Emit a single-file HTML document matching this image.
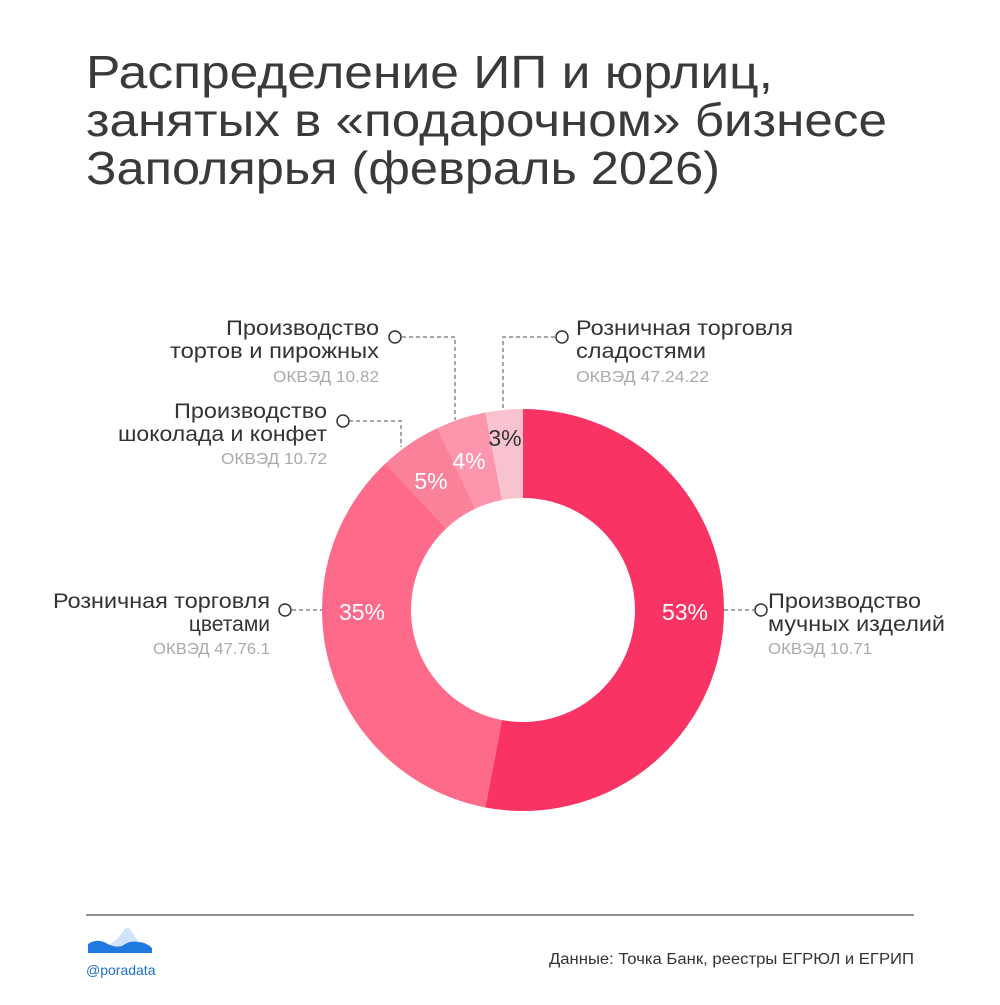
<!DOCTYPE html>
<html><head><meta charset="utf-8"><style>
body{margin:0;width:1000px;height:1000px;background:#fff;font-family:"Liberation Sans",sans-serif;overflow:hidden}
</style></head><body>
<svg width="1000" height="1000" xmlns="http://www.w3.org/2000/svg" font-family="Liberation Sans, sans-serif">
<g font-size="46" fill="#3a3a3a" font-weight="500" lengthAdjust="spacingAndGlyphs">
<text x="86" y="88" textLength="687" lengthAdjust="spacingAndGlyphs">Распределение ИП и юрлиц,</text>
<text x="86" y="136" textLength="801" lengthAdjust="spacingAndGlyphs">занятых в «подарочном» бизнесе</text>
<text x="86" y="184" textLength="634" lengthAdjust="spacingAndGlyphs">Заполярья (февраль 2026)</text>
</g>
<g id="donut"></g>
<g fill="none" stroke="#888" stroke-width="1.5" stroke-dasharray="4 3">
<path d="M402 337 H455 V420"/>
<path d="M349 421 H401 V447"/>
<path d="M555 337 H503 V410"/>
<path d="M292 610 H322"/>
<path d="M724 610 H754"/>
</g>
<g fill="#fff" stroke="#333" stroke-width="1.5">
<circle cx="395" cy="337" r="6"/><circle cx="343" cy="421" r="6"/><circle cx="562" cy="337" r="6"/>
<circle cx="285" cy="610" r="6"/><circle cx="761" cy="610" r="6"/>
</g>
<g font-size="23" fill="#fff" text-anchor="middle">
<text x="685" y="620">53%</text><text x="362" y="620">35%</text>
<text x="431" y="489">5%</text><text x="469" y="469">4%</text>
<text x="505" y="446" fill="#333">3%</text>
</g>
<g font-size="21" fill="#333">
<text x="226" y="335" textLength="153" lengthAdjust="spacingAndGlyphs">Производство</text>
<text x="170" y="358" textLength="209" lengthAdjust="spacingAndGlyphs">тортов и пирожных</text>
<text x="174" y="418" textLength="153" lengthAdjust="spacingAndGlyphs">Производство</text>
<text x="118" y="441" textLength="209" lengthAdjust="spacingAndGlyphs">шоколада и конфет</text>
<text x="53" y="608" textLength="217" lengthAdjust="spacingAndGlyphs">Розничная торговля</text>
<text x="270" y="631" text-anchor="end">цветами</text>
<text x="576" y="335" textLength="217" lengthAdjust="spacingAndGlyphs">Розничная торговля</text>
<text x="576" y="358" textLength="130" lengthAdjust="spacingAndGlyphs">сладостями</text>
<text x="768" y="608" textLength="153" lengthAdjust="spacingAndGlyphs">Производство</text>
<text x="768" y="631" textLength="177" lengthAdjust="spacingAndGlyphs">мучных изделий</text>
</g>
<g font-size="16" fill="#aaa">
<text x="273" y="382" textLength="106" lengthAdjust="spacingAndGlyphs">ОКВЭД 10.82</text>
<text x="221" y="464" textLength="106" lengthAdjust="spacingAndGlyphs">ОКВЭД 10.72</text>
<text x="153" y="654" textLength="117" lengthAdjust="spacingAndGlyphs">ОКВЭД 47.76.1</text>
<text x="576" y="382" textLength="133" lengthAdjust="spacingAndGlyphs">ОКВЭД 47.24.22</text>
<text x="768" y="654" textLength="104" lengthAdjust="spacingAndGlyphs">ОКВЭД 10.71</text>
</g>
<line x1="86" y1="915" x2="914" y2="915" stroke="#222" stroke-width="1"/>
<text x="549" y="964" font-size="15.5" fill="#333" textLength="365" lengthAdjust="spacingAndGlyphs">Данные: Точка Банк, реестры ЕГРЮЛ и ЕГРИП</text>
<path d="M104 950 Q112 942 116 940 Q122 934 124 930 Q128 925 132 932 Q138 942 146 950 Z" fill="#cfe4fb"/>
<path d="M88 953 L88 944 Q97 938 106 943 Q114 948 122 946 Q130 940 138 942 Q146 942 152 948 L152 953 Z" fill="#1f7ae0"/>
<text x="86" y="975" font-size="14" fill="#1f6fd0">@poradata</text>
</svg>
<script>
const cx=523,cy=610,R=201,r=112;
const a=[0,190.8,316.8,334.8,349.2,360];
const c=["#f93363","#fe6a8a","#f98199","#fd95ad","#f8c3cf"];
function p(rad,deg){const t=deg*Math.PI/180;return [cx+rad*Math.sin(t),cy-rad*Math.cos(t)];}
let h="";
for(let i=0;i<5;i++){const s=a[i],e=a[i+1],l=(e-s)>180?1:0;
const [x1,y1]=p(R,s),[x2,y2]=p(R,e),[x3,y3]=p(r,e),[x4,y4]=p(r,s);
h+=`<path fill="${c[i]}" d="M${x1} ${y1} A${R} ${R} 0 ${l} 1 ${x2} ${y2} L${x3} ${y3} A${r} ${r} 0 ${l} 0 ${x4} ${y4}Z"/>`;}
document.getElementById("donut").innerHTML=h;
</script>
</body></html>
